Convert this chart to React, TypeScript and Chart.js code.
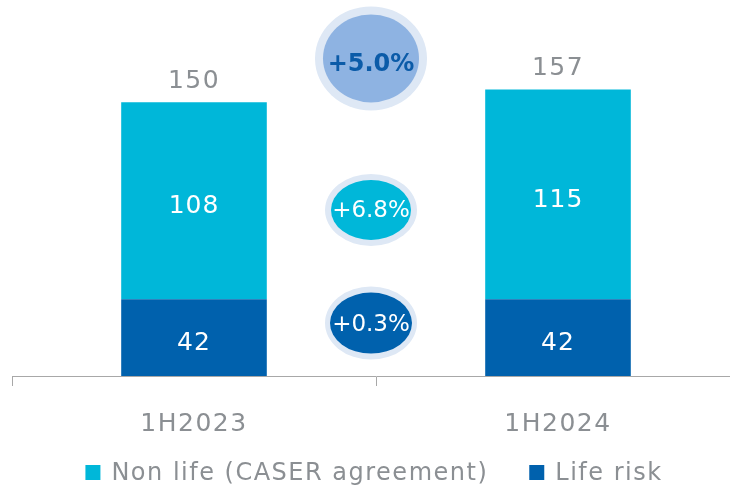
import React, { useEffect, useRef } from 'react';
import { Chart, registerables } from 'chart.js';

Chart.register(...registerables);

const categories = ['1H2023', '1H2024'];
const lifeRisk = [42, 42];
const nonLife = [108, 115];
const totals = [150, 157];
const seriesNames = ['Non life (CASER agreement)', 'Life risk'];
const growthLabels = ['+5.0%', '+6.8%', '+0.3%'];

const FONT = '"DejaVu Sans", sans-serif';
const GRAY = '#8b8f93';
const AXIS = '#a8a8a8';
const CYAN = '#00b7d9';
const BLUE = '#0061ad';
const SPACING = '1.5px';

// badge placement/style config (not data)
const badgeStyle = [
  { v: 174, rx: 56, ry: 52, irx: 48, iry: 44, fill: '#8eb3e2', text: '#0b5ba8', bold: true, size: 24, dy: 6 },
  { v: 91, rx: 46, ry: 36, irx: 40, iry: 30, fill: CYAN, text: '#ffffff', bold: false, size: 23, dy: 1 },
  { v: 29, rx: 46, ry: 36.5, irx: 41, iry: 30.5, fill: BLUE, text: '#ffffff', bold: false, size: 23, dy: 2 },
];

const overlay = {
  id: 'overlay',
  afterDatasetsDraw(chart: any) {
    const ctx = chart.ctx as any;
    const xs = chart.scales.x;
    const ys = chart.scales.y;
    ctx.save();
    ctx.textAlign = 'center';
    // segment labels
    ctx.letterSpacing = '1px';
    chart.data.datasets.forEach((ds: any, di: number) => {
      const meta = chart.getDatasetMeta(di);
      meta.data.forEach((bar: any, i: number) => {
        const p = bar.getProps(['x', 'y', 'base'], true);
        const cy = (p.y + p.base) / 2;
        ctx.fillStyle = '#ffffff';
        ctx.font = `25px ${FONT}`;
        ctx.textBaseline = 'middle';
        ctx.fillText(String(ds.data[i]), p.x, cy + 6);
      });
    });
    ctx.letterSpacing = SPACING;
    // totals
    totals.forEach((t, i) => {
      const px = xs.getPixelForValue(i);
      const py = ys.getPixelForValue(t);
      ctx.fillStyle = GRAY;
      ctx.font = `25px ${FONT}`;
      ctx.textBaseline = 'alphabetic';
      ctx.fillText(String(t), px, py - 14);
    });
    // category labels
    categories.forEach((c, i) => {
      const px = xs.getPixelForValue(i);
      ctx.fillStyle = GRAY;
      ctx.font = `25px ${FONT}`;
      ctx.textBaseline = 'alphabetic';
      ctx.fillText(c, px, 431);
    });
    ctx.letterSpacing = '0px';
    // growth badges
    const cx = (xs.getPixelForValue(0) + xs.getPixelForValue(1)) / 2 - 5;
    badgeStyle.forEach((b, i) => {
      const cy = ys.getPixelForValue(b.v);
      ctx.beginPath();
      ctx.ellipse(cx, cy, b.rx, b.ry, 0, 0, Math.PI * 2);
      ctx.fillStyle = '#dee8f5';
      ctx.fill();
      ctx.beginPath();
      ctx.ellipse(cx, cy, b.irx, b.iry, 0, 0, Math.PI * 2);
      ctx.fillStyle = b.fill;
      ctx.fill();
      ctx.fillStyle = b.text;
      ctx.font = `${b.bold ? 'bold ' : ''}${b.size}px ${FONT}`;
      ctx.textBaseline = 'middle';
      ctx.fillText(growthLabels[i], cx, cy + b.dy);
    });
    // legend
    const items = [
      { label: seriesNames[0], color: CYAN },
      { label: seriesNames[1], color: BLUE },
    ];
    ctx.letterSpacing = SPACING;
    ctx.font = `24px ${FONT}`;
    const box = 15;
    const gapBox = 11;
    const gapItem = 41;
    const widths = items.map((it) => box + gapBox + ctx.measureText(it.label).width);
    const total = widths.reduce((a: number, b: number) => a + b, 0) + gapItem * (items.length - 1);
    let lx = 374 - total / 2;
    const baseY = 480;
    items.forEach((it, i) => {
      ctx.fillStyle = it.color;
      ctx.fillRect(lx, baseY - box, box, box);
      ctx.fillStyle = GRAY;
      ctx.textAlign = 'left';
      ctx.textBaseline = 'alphabetic';
      ctx.fillText(it.label, lx + box + gapBox, baseY);
      lx += widths[i] + gapItem;
    });
    ctx.restore();
  },
};

export default function App() {
  const ref = useRef<HTMLCanvasElement>(null);
  useEffect(() => {
    if (!ref.current) return;
    const chart = new Chart(ref.current, {
      type: 'bar',
      data: {
        labels: categories,
        datasets: [
          { label: seriesNames[1], data: lifeRisk, backgroundColor: BLUE, borderWidth: 0 },
          { label: seriesNames[0], data: nonLife, backgroundColor: CYAN, borderWidth: 0 },
        ],
      },
      options: {
        responsive: false,
        animation: false,
        devicePixelRatio: 1,
        layout: { padding: { left: 12, right: 0, top: 0, bottom: 0 } },
        datasets: { bar: { categoryPercentage: 1, barPercentage: 0.4 } },
        plugins: { legend: { display: false }, tooltip: { enabled: false } },
        scales: {
          x: {
            stacked: true,
            grid: { display: true, drawOnChartArea: false, drawTicks: true, tickLength: 10, color: AXIS, offset: true },
            border: { display: true, color: AXIS, width: 1 },
            ticks: { color: 'rgba(0,0,0,0)', font: { family: FONT, size: 25 }, padding: 19 },
            afterFit: (s: any) => {
              s.height = 110;
            },
          },
          y: { stacked: true, display: false, min: 0, max: 206 },
        },
      },
      plugins: [overlay],
    });
    return () => chart.destroy();
  }, []);
  return (
    <div style={{ position: 'fixed', left: 0, top: 0, width: 730, height: 486, overflow: 'hidden', background: '#fff' }}>
      <canvas ref={ref} width={740} height={486} style={{ display: 'block' }} />
    </div>
  );
}
